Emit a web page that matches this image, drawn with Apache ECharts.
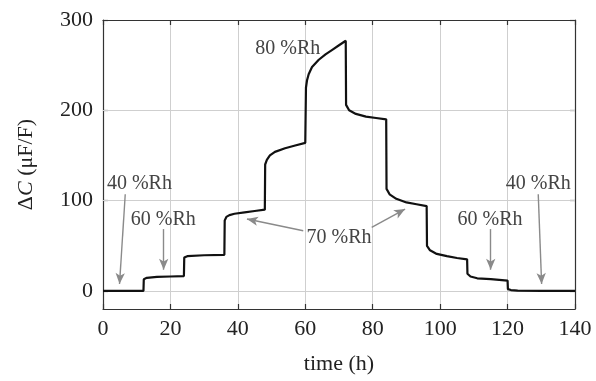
<!DOCTYPE html>
<html>
<head>
<meta charset="utf-8">
<script src="https://cdn.jsdelivr.net/npm/echarts@6/dist/echarts.min.js"></script>
<style>html,body{margin:0;padding:0;background:#fff}#c{width:596px;height:381px}</style>
</head>
<body>
<div id="c"></div>
<script>
// ---- data ----
const timeH = [0, 12, 12.1, 13, 16, 20, 24, 24.1, 25, 30, 36, 36.1, 36.6, 37.5, 39, 42, 45, 48, 48.1, 48.6, 49.5, 51, 54, 57, 60, 60.2, 60.5, 61, 62, 64, 66, 68, 70, 72, 72.1, 73, 75, 78, 81, 84, 84.1, 85, 87, 90, 93, 96, 96.1, 97, 99, 102, 105, 108, 108.1, 109, 111, 115, 120, 120.1, 121, 123, 130, 140];
const deltaC = [0, 0, 13, 14.5, 15.5, 16, 16.5, 37, 38.5, 39.5, 40, 78, 82, 84, 85.5, 87, 88.5, 90, 140, 145, 150, 154, 158, 161, 164, 225, 233, 240, 248, 256, 262, 267, 272, 277, 206, 200, 196, 193, 191.5, 190, 113, 107, 102, 98, 96, 94, 50, 45, 41, 38.5, 36.5, 35, 19, 16, 14, 13, 11.5, 2, 1, 0.3, 0, 0];
const xTicks = [0, 20, 40, 60, 80, 100, 120, 140];
const yTicks = [0, 100, 200, 300];
const yGrid = [0, 100, 200];
// annotation labels: [text, time, value]
const labels = [
  ['40 %Rh', 10.8, 119],
  ['60 %Rh', 17.9, 78.5],
  ['80 %Rh', 54.8, 268],
  ['70 %Rh', 70.0, 59.3],
  ['60 %Rh', 114.8, 78.5],
  ['40 %Rh', 129.1, 119]
];
// arrows: [fromTime, fromValue, toTime, toValue, curveness]
const arrows = [
  [6.6, 107, 4.9, 7.7, 0.03],
  [18, 68.5, 18, 23.5, 0],
  [59.4, 66.6, 42.7, 79.6, 0.2],
  [79.7, 70.4, 89.6, 90.6, -0.08],
  [115, 68.5, 115, 23.5, 0],
  [129.1, 107, 130.1, 7.7, -0.03]
];

const series = timeH.map((t, i) => [t, deltaC[i]]);
const serif = '"Liberation Serif", "DejaVu Serif", serif';
const frame = '#333';

const chart = echarts.init(document.getElementById('c'), null, {renderer: 'canvas'});
const axisCommon = {
  type: 'value',
  axisLine: {show: true, onZero: false, lineStyle: {color: frame, width: 1.2}},
  axisTick: {show: true, inside: true, length: 5, lineStyle: {color: frame, width: 1.2}},
};
chart.setOption({
  animation: false,
  grid: {left: 103, right: 21, top: 20, bottom: 72},
  xAxis: [
    Object.assign({}, axisCommon, {
      position: 'bottom', min: 0, max: 140, interval: 20,
      axisLabel: {color: '#222', fontFamily: serif, fontSize: 22, margin: 9},
      splitLine: {show: true, lineStyle: {color: '#cfcfcf', width: 1}},
      name: 'time (h)', nameLocation: 'middle', nameGap: 44,
      nameTextStyle: {color: '#222', fontFamily: serif, fontSize: 22}
    }),
    Object.assign({}, axisCommon, {
      position: 'top', min: 0, max: 140, interval: 20,
      axisLabel: {show: false}, splitLine: {show: false}
    })
  ],
  yAxis: [
    Object.assign({}, axisCommon, {
      position: 'left', min: -20, max: 300, interval: 20,
      axisTick: Object.assign({}, axisCommon.axisTick, {customValues: yTicks}),
      axisLabel: {color: '#222', fontFamily: serif, fontSize: 22, margin: 10, customValues: yTicks},
      splitLine: {show: false},
      name: '{a|Δ}{i|C}{a| (μF/F)}', nameLocation: 'middle', nameGap: 66, nameRotate: 90,
      nameTextStyle: {rich: {
        a: {color: '#222', fontFamily: serif, fontSize: 22},
        i: {color: '#222', fontFamily: serif, fontSize: 22, fontStyle: 'italic'}
      }}
    }),
    Object.assign({}, axisCommon, {
      position: 'right', min: -20, max: 300, interval: 20,
      axisTick: Object.assign({}, axisCommon.axisTick, {customValues: yTicks}),
      axisLabel: {show: false}, splitLine: {show: false}
    })
  ],
  series: [
    {
      type: 'line', data: series, showSymbol: false, silent: true, z: 1,
      lineStyle: {opacity: 0},
      markLine: {
        silent: true, symbol: 'none', animation: false,
        label: {show: false},
        lineStyle: {color: '#cfcfcf', width: 1, type: 'solid'},
        data: yGrid.map(v => ({yAxis: v}))
      }
    },
    {
      type: 'line', data: series, showSymbol: false, silent: true, z: 2,
      lineStyle: {opacity: 0},
      markLine: {
        silent: true, symbol: ['none', 'arrow'], symbolSize: [7, 11], animation: false,
        label: {show: false},
        lineStyle: {color: '#8a8a8a', width: 1.4, type: 'solid'},
        data: arrows.map(a => [
          {coord: [a[0], a[1]], lineStyle: {curveness: a[4]}},
          {coord: [a[2], a[3]]}
        ])
      }
    },
    {
      type: 'line', data: series, showSymbol: false, z: 5,
      lineStyle: {color: '#111', width: 2.2}
    }
  ]
});

chart.setOption({
  graphic: labels.map(l => {
    const p = chart.convertToPixel({xAxisIndex: 0, yAxisIndex: 0}, [l[1], l[2]]);
    return {
      type: 'text', x: p[0], y: p[1], z: 10,
      style: {text: l[0], fill: '#444', font: '20px ' + serif, align: 'center', verticalAlign: 'middle'}
    };
  })
});
</script>
</body>
</html>
